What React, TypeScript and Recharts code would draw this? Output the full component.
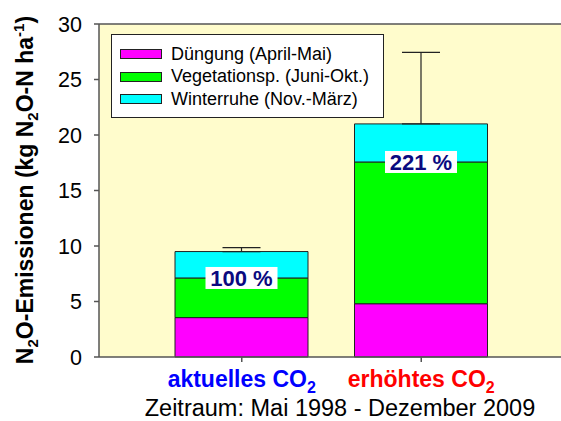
import { BarChart, Bar, XAxis, YAxis, CartesianGrid, Legend, ErrorBar, LabelList, ReferenceLine } from 'recharts';

const FONT = '"Liberation Sans", Arial, sans-serif';

// Werte (kg N2O-N/ha)
const categories = ['aktuelles CO2', 'erhöhtes CO2'];
const categoryColors = ['#0000FF', '#FF0000'];
const duengung = [3.55, 4.8];
const vegetation = [3.57, 12.77];
const winterruhe = [2.38, 3.43];
const fehlerOben = [0.35, 6.45];
const prozent = ['100 %', '221 %'];
const yTicks = [0, 5, 10, 15, 20, 25, 30];

const serien = [
  { key: 'duengung', name: 'Düngung (April-Mai)', color: '#FF00FF' },
  { key: 'vegetation', name: 'Vegetationsp. (Juni-Okt.)', color: '#00FF00' },
  { key: 'winterruhe', name: 'Winterruhe (Nov.-März)', color: '#00FFFF' },
];

const data = categories.map((name, i) => ({
  name,
  duengung: duengung[i],
  vegetation: vegetation[i],
  winterruhe: winterruhe[i],
  fehler: [0, fehlerOben[i]],
  prozent: prozent[i],
}));

// X-Achse: Text mit tiefgestellter 2
const KategorieTick = ({ x, y, payload, index }: any) => {
  const txt: string = payload.value;
  const basis = txt.slice(0, -1);
  return (
    <text x={x} y={y + 23} textAnchor="middle" fontFamily={FONT} fontWeight="bold" fontSize={23} fill={categoryColors[index]}>
      {basis}
      <tspan dy={6} fontSize={16}>2</tspan>
    </text>
  );
};

const YLabel = () => (
  <text
    x={33}
    y={190}
    transform="rotate(-90, 33, 190)"
    textAnchor="middle"
    fontFamily={FONT}
    fontWeight="bold"
    fontSize={23}
    fill="#000"
  >
    N<tspan dy={5} fontSize={15}>2</tspan>
    <tspan dy={-5}>O-Emissionen (kg N</tspan>
    <tspan dy={5} fontSize={15}>2</tspan>
    <tspan dy={-5}>O-N ha</tspan>
    <tspan dy={-9} fontSize={15}>-1</tspan>
    <tspan dy={9}>)</tspan>
  </text>
);

const ZeitraumLabel = ({ viewBox }: any) => (
  <text x={viewBox.x + viewBox.width / 2 + 10} y={416} textAnchor="middle" fontFamily={FONT} fontSize={23.5} fill="#000">
    Zeitraum: Mai 1998 - Dezember 2009
  </text>
);

// Prozentangabe auf der Grenze Vegetation / Winterruhe
const ProzentLabel = ({ x, y, width, height, value }: any) => {
  const cx = x + width / 2;
  const cy = y + height;
  return (
    <g>
      <rect x={cx - 36} y={cy - 11} width={72} height={22} fill="#FFFFFF" />
      <text x={cx} y={cy + 8} textAnchor="middle" fontFamily={FONT} fontWeight="bold" fontSize={22} fill="#0A0A80">
        {value}
      </text>
    </g>
  );
};

const Legende = () => (
  <div
    style={{
      width: 273,
      height: 84,
      background: '#fff',
      border: '1px solid #222',
      boxSizing: 'border-box',
      padding: '8px 0 0 8px',
      fontFamily: FONT,
      fontSize: 18,
    }}
  >
    {serien.map((s) => (
      <div key={s.key} style={{ display: 'flex', alignItems: 'center', height: 22.5 }}>
        <span style={{ display: 'inline-block', width: 40, height: 8, background: s.color, border: '1px solid #222', marginRight: 9 }} />
        <span>{s.name}</span>
      </div>
    ))}
  </div>
);

export default function App() {
  return (
    <div style={{ position: 'absolute', left: 0, top: 0, width: 561, height: 421, background: '#fff' }}>
      <BarChart width={561} height={421} data={data} margin={{ top: 24, right: 0, left: 0, bottom: 0 }} barSize={133}>
        <CartesianGrid horizontal={false} vertical={false} fill="#FFFCCC" stroke="none" />
        <XAxis
          dataKey="name"
          height={64}
          padding={{ left: 53, right: 50 }}
          stroke="#555"
          strokeWidth={1.5}
          tickSize={5}
          tick={<KategorieTick />}
          label={<ZeitraumLabel />}
        />
        <YAxis
          width={99}
          domain={[0, 30]}
          ticks={yTicks}
          interval={0}
          stroke="#555"
          strokeWidth={1.5}
          tickSize={5}
          tickMargin={12}
          tick={{ fontFamily: FONT, fontSize: 21.5, fill: '#000' }}
          label={<YLabel />}
        />
        <ReferenceLine y={30} stroke="#555" strokeWidth={1.5} />
        <Legend
          layout="vertical"
          align="center"
          verticalAlign="middle"
          content={<Legende />}
          wrapperStyle={{ left: 111, top: 34, width: 273 }}
        />
        {serien.map((s, i) => (
          <Bar key={s.key} dataKey={s.key} name={s.name} stackId="a" fill={s.color} stroke="#222" strokeWidth={1} isAnimationActive={false}>
            {i === 2 && <ErrorBar dataKey="fehler" direction="y" width={19} stroke="#222" strokeWidth={1.2} />}
            {i === 2 && <LabelList dataKey="prozent" content={<ProzentLabel />} />}
          </Bar>
        ))}
      </BarChart>
    </div>
  );
}
